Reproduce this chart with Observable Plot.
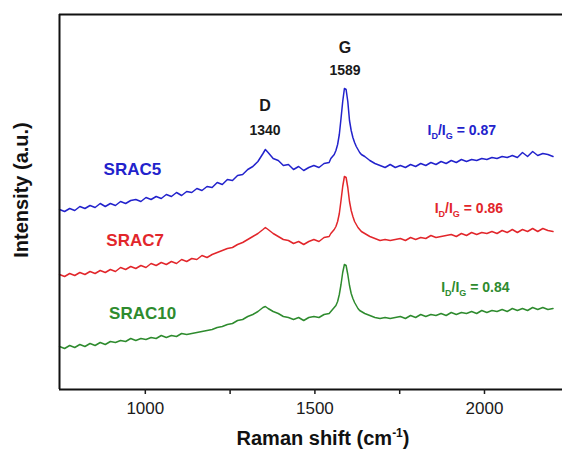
<!DOCTYPE html>
<html>
<head>
<meta charset="utf-8">
<script src="https://cdn.jsdelivr.net/npm/d3@7"></script>
<script src="https://cdn.jsdelivr.net/npm/@observablehq/plot@0.6"></script>
<style>
  html, body { margin: 0; padding: 0; background: #fff; }
  svg { overflow: visible; }
</style>
</head>
<body>
<script>
// Raman shift (cm^-1)
const wavenumber = [
  747, 762, 777, 792, 807, 822, 837, 852, 867, 882, 897, 912, 927, 942, 957, 972, 987, 1002, 1017, 1032,
  1047, 1062, 1077, 1092, 1107, 1122, 1137, 1152, 1167, 1182, 1197, 1212, 1227, 1242, 1257, 1272, 1287, 1302, 1317, 1332,
  1347, 1354, 1362, 1377, 1392, 1407, 1422, 1437, 1452, 1467, 1482, 1497, 1512, 1527, 1542,
  1547, 1552, 1557, 1562, 1567, 1572, 1577, 1582, 1587, 1592, 1597, 1602, 1607, 1612, 1617, 1622, 1627, 1632, 1637,
  1647, 1662, 1677, 1692, 1707, 1722, 1737, 1752, 1767, 1782, 1797, 1812, 1827, 1842, 1857, 1872, 1887, 1902, 1917, 1932,
  1947, 1962, 1977, 1992, 2007, 2022, 2037, 2052, 2067, 2082, 2097, 2112, 2127, 2142, 2157, 2172, 2187, 2202
];

// Intensities (a.u., offset stacked)
const srac5 = [
  191, 189, 192, 190, 194, 192, 195, 193, 197, 194, 197, 195, 199, 197, 200, 201, 199, 203, 201, 204,
  202, 206, 204, 208, 205, 209, 208, 212, 210, 214, 213, 218, 216, 221, 220, 225, 226, 231, 234, 239,
  247, 251, 248, 242, 240, 235, 236, 231, 234, 230, 233, 235, 233, 237, 238,
  242, 244, 246, 250, 256, 266, 282, 299, 312, 311, 299, 280, 270, 263, 258, 254, 251, 248, 246,
  244, 240, 237, 235, 233, 236, 233, 235, 233, 236, 234, 237, 235, 238, 236, 239, 237, 240, 238, 241,
  239, 241, 240, 242, 241, 243, 242, 244, 243, 245, 243, 248, 244, 249, 245, 247, 246, 244
];
const srac7 = [
  126, 124, 127, 125, 128, 126, 129, 127, 130, 128, 131, 129, 133, 131, 134, 132, 135, 133, 137, 135,
  138, 136, 139, 137, 141, 139, 142, 141, 145, 143, 146, 148, 150, 152, 153, 156, 158, 161, 164, 167,
  171, 173, 171, 167, 164, 161, 160, 157, 159, 156, 159, 161, 159, 163, 164,
  167, 169, 171, 174, 179, 187, 200, 214, 224, 223, 213, 199, 190, 184, 179, 176, 173, 171, 169,
  167, 164, 162, 160, 161, 160, 161, 162, 160, 163, 161, 163, 162, 165, 163, 164, 165, 166, 164, 167,
  165, 168, 166, 168, 167, 169, 167, 170, 168, 171, 168, 171, 169, 172, 169, 172, 170, 169
];
const srac10 = [
  54, 52, 55, 53, 56, 54, 57, 55, 58, 56, 59, 58, 60, 59, 62, 60, 62, 61, 63, 62,
  65, 63, 65, 64, 67, 66, 67, 68, 69, 70, 71, 73, 74, 76, 77, 80, 81, 84, 86, 89,
  93, 94, 92, 89, 87, 84, 83, 81, 83, 80, 83, 84, 83, 86, 87,
  89, 91, 93, 95, 99, 106, 116, 128, 136, 135, 126, 115, 107, 102, 98, 95, 92, 90, 89,
  87, 85, 83, 82, 83, 82, 83, 84, 82, 85, 83, 86, 84, 86, 85, 87, 85, 88, 86, 88,
  87, 89, 87, 90, 88, 90, 89, 91, 89, 92, 90, 92, 90, 93, 91, 93, 91, 92
];

const sampleNames = ["SRAC5", "SRAC7", "SRAC10"];
const sampleColors = ["#2222cc", "#e2262b", "#2e8b2e"];
const sampleLabelX = [962, 970, 992];
const sampleLabelY = [231, 160, 87];

const ratioValues = ["0.87", "0.86", "0.84"];
const ratioX = [1933, 1954, 1973];
const ratioY = [270, 192, 113];

const peakNames = ["D", "G"];
const peakValues = ["1340", "1589"];
const peakX = [1353, 1589];
const peakNameY = [295, 353];
const peakValueY = [270, 330];

const xTicks = [1000, 1250, 1500, 1750, 2000];
const xDomain = [747, 2230];
const yDomain = [11, 386];

const seriesValues = [srac5, srac7, srac10];
const spectra = sampleNames.flatMap((name, s) =>
  wavenumber.map((w, i) => ({ name, w, v: seriesValues[s][i] })));
const sampleLabels = sampleNames.map((name, i) => ({ name, x: sampleLabelX[i], y: sampleLabelY[i] }));
const ratioLabels = ratioValues.map((r, i) => ({ name: sampleNames[i], text: "I_D/I_G = " + r, x: ratioX[i], y: ratioY[i] }));
const peakLabels = peakNames.map((n, i) => ({ n, val: peakValues[i], x: peakX[i], yn: peakNameY[i], yv: peakValueY[i] }));

const font = "'Liberation Sans', Arial, Helvetica, sans-serif";

const chart = Plot.plot({
  width: 562,
  height: 450,
  marginLeft: 59,
  marginRight: 0,
  marginTop: 14,
  marginBottom: 61,
  style: { fontFamily: font, color: "#1a1a1a", background: "#fff" },
  x: { domain: xDomain, axis: null },
  y: { domain: yDomain, axis: null },
  color: { domain: sampleNames, range: sampleColors },
  marks: [
    Plot.line(spectra, { x: "w", y: "v", z: "name", stroke: "name", strokeWidth: 1.5 }),
    Plot.ruleX([xDomain[0]], { y1: yDomain[0], y2: yDomain[1], stroke: "#111", strokeWidth: 2 }),
    Plot.ruleY([yDomain[1]], { stroke: "#111", strokeWidth: 2 }),
    Plot.ruleY([yDomain[0]], { stroke: "#111", strokeWidth: 2 }),
    Plot.axisX({
      ticks: xTicks,
      tickFormat: d => (d % 500 === 0 ? String(d) : ""),
      tickSize: 5,
      tickPadding: 7,
      fontSize: 17,
      strokeWidth: 1.5,
      label: null
    }),
    Plot.text(sampleLabels, { x: "x", y: "y", text: "name", fill: "name", fontSize: 17, fontWeight: "bold" }),
    Plot.text(ratioLabels, { x: "x", y: "y", text: "text", fill: "name", fontSize: 14, fontWeight: "bold", className: "ratio" }),
    Plot.text(peakLabels, { x: "x", y: "yn", text: "n", fill: "#1a1a1a", fontSize: 16, fontWeight: "bold" }),
    Plot.text(peakLabels, { x: "x", y: "yv", text: "val", fill: "#1a1a1a", fontSize: 14, fontWeight: "bold" }),
    Plot.text(["Intensity (a.u.)"], { frameAnchor: "left", dx: -38, dy: -12, rotate: -90, textAnchor: "middle", lineAnchor: "middle", fontSize: 20, fontWeight: "bold", fill: "#111" }),
    Plot.text(["Raman shift (cm-1)"], { frameAnchor: "bottom", dx: 12, dy: 49, textAnchor: "middle", lineAnchor: "middle", fontSize: 20, fontWeight: "bold", fill: "#111", className: "xlabel" })
  ]
});

// subscripts for I_D/I_G
d3.select(chart).selectAll(".ratio text").each(function () {
  const el = d3.select(this);
  const parts = el.text().split(" = ");
  el.text(null);
  el.append("tspan").text("I");
  el.append("tspan").attr("dy", 4).attr("font-size", "9px").text("D");
  el.append("tspan").attr("dy", -4).text("/I");
  el.append("tspan").attr("dy", 4).attr("font-size", "9px").text("G");
  el.append("tspan").attr("dy", -4).text(" = " + parts[1]);
});
// superscript for cm^-1
d3.select(chart).selectAll(".xlabel text").each(function () {
  const el = d3.select(this);
  el.text(null);
  el.append("tspan").text("Raman shift (cm");
  el.append("tspan").attr("dy", -8).attr("font-size", "12px").text("-1");
  el.append("tspan").attr("dy", 8).text(")");
});

document.body.append(chart);
</script>
</body>
</html>
